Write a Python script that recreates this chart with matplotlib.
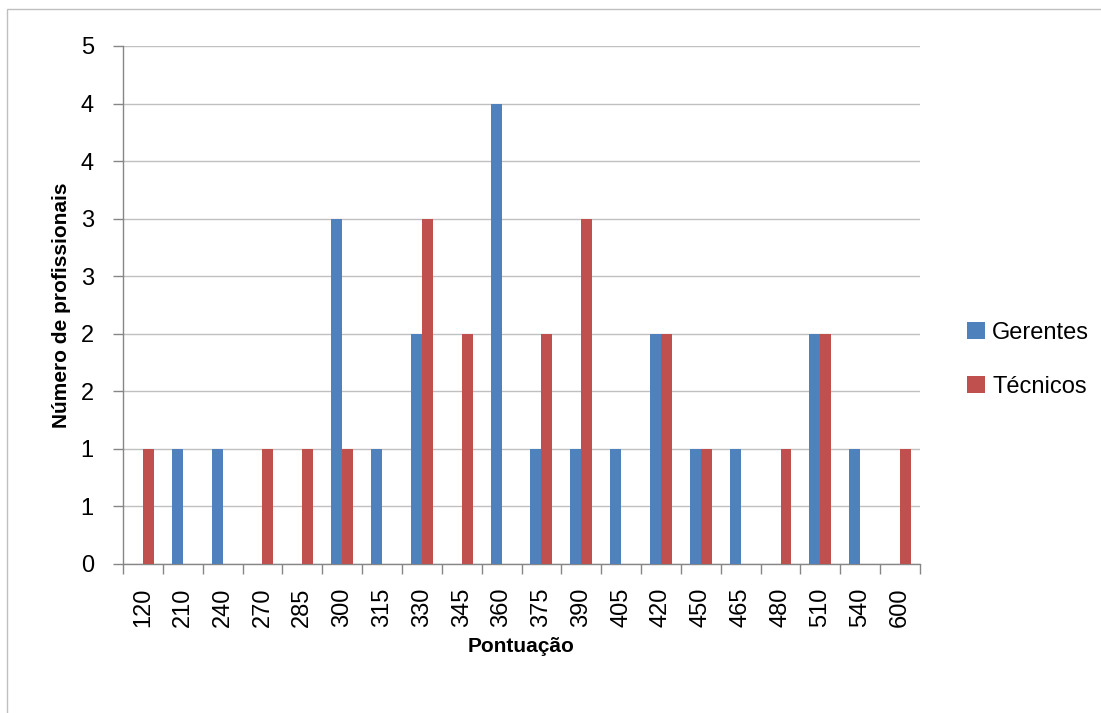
import math
import numpy as np
import matplotlib
matplotlib.use("Agg")
import matplotlib.pyplot as plt
from matplotlib.patches import Rectangle
from matplotlib.ticker import FuncFormatter, MultipleLocator

plt.rcParams['font.family'] = ['Liberation Sans', 'DejaVu Sans']

pontuacao = ["120", "210", "240", "270", "285", "300", "315", "330", "345", "360",
             "375", "390", "405", "420", "450", "465", "480", "510", "540", "600"]
gerentes = [0, 1, 1, 0, 0, 3, 1, 2, 0, 4, 1, 1, 1, 2, 1, 1, 0, 2, 1, 0]
tecnicos = [1, 0, 0, 1, 1, 1, 0, 3, 2, 0, 2, 3, 0, 2, 1, 0, 1, 2, 0, 1]

BLUE = "#4F81BD"
RED = "#C0504D"
GRID = "#C0C0C0"
AXIS = "#868686"

W, H = 1101, 713
fig = plt.figure(figsize=(W / 100, H / 100), dpi=100)

# chart-area frame (runs past the right and bottom edges)
fig.patches.append(Rectangle((7 / W, -0.2), 1.5, 0.2 + (H - 9) / H, transform=fig.transFigure,
                             fill=False, edgecolor="#BFBFBF", linewidth=1.0))

ax = fig.add_axes([123 / W, (H - 564) / H, 797 / W, 518 / H])

x = np.arange(len(pontuacao))
bw = 0.275
ax.bar(x - bw / 2, gerentes, bw, color=BLUE, label="Gerentes", zorder=3)
ax.bar(x + bw / 2, tecnicos, bw, color=RED, label="Técnicos", zorder=3)

ax.set_xlim(-0.5, len(pontuacao) - 0.5)
ax.set_ylim(0, 4.5)
ax.yaxis.set_major_locator(MultipleLocator(0.5))
ax.yaxis.set_major_formatter(FuncFormatter(lambda v, p: str(int(math.floor(v + 0.5)))))
ax.grid(axis="y", color=GRID, linewidth=1.0, zorder=0)

ax.set_xticks(x)
ax.set_xticklabels(pontuacao, rotation=90, fontsize=17)
ax.set_xticks(np.arange(-0.5, len(pontuacao)), minor=True)
ax.tick_params(axis="x", which="major", length=0, pad=17)
ax.tick_params(axis="x", which="minor", length=7, color=AXIS, width=1)
ax.tick_params(axis="y", length=7, color=AXIS, width=1, labelsize=17, pad=14)

for side in ("top", "right"):
    ax.spines[side].set_visible(False)
for side in ("left", "bottom"):
    ax.spines[side].set_color(AXIS)
    ax.spines[side].set_linewidth(1.0)

ax.set_xlabel("Pontuação", fontsize=15, fontweight="bold", va="center")
ax.xaxis.set_label_coords(0.5, (564 - 647) / 518)
ax.set_ylabel("Número de profissionais", fontsize=15, fontweight="bold", va="center")
ax.yaxis.set_label_coords((62 - 123) / 797, 0.5)

fig.legend(loc="center left", bbox_to_anchor=(958 / W, (H - 360) / H), frameon=False,
           fontsize=17, handlelength=0.75, handleheight=0.75, handletextpad=0.3,
           labelspacing=1.35, borderaxespad=0)

fig.savefig("out.png", dpi=100)
